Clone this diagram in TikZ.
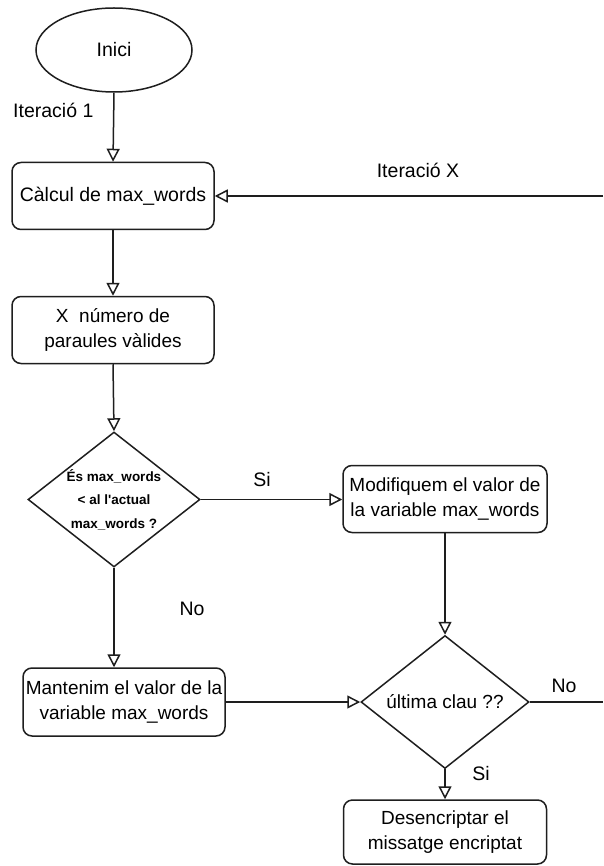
\documentclass[tikz,border=0pt]{standalone}
\usepackage{fontspec}
\setmainfont{Liberation Sans}[Ligatures=TeXOff]
\usetikzlibrary{shapes.geometric,arrows.meta}
\definecolor{lc}{RGB}{30,30,30}
\begin{document}
\begin{tikzpicture}[x=1pt,y=-1pt,
  box/.style={draw=lc, line width=1.5pt, rounded corners=9pt, minimum width=202pt, minimum height=67pt, inner sep=0pt, align=center, font=\fontsize{19}{25}\selectfont},
  dec/.style={draw=lc, line width=1.5pt, diamond, inner sep=0pt},
  dtext/.style={inner sep=0pt, align=center},
  lbl/.style={font=\fontsize{19.5}{23}\selectfont, inner sep=0pt},
  conn/.style={draw=lc, line width=1.5pt},
  arr/.style={conn, -{Triangle[open, fill=white, length=13pt, width=13pt]}}]
\useasboundingbox (0,0) rectangle (603,866);
\fill[white] (0,0) rectangle (603,866);

\node[draw=lc, line width=1.5pt, ellipse, minimum width=156pt, minimum height=84pt, inner sep=0pt, font=\fontsize{19.5}{23}\selectfont] (start) at (114,50) {Inici};
\node[box, font=\fontsize{19.5}{25}\selectfont] (b1) at (113,196) {Càlcul de max\_words};
\node[box] (b2) at (113,330) {X\ \ número de\\paraules vàlides};
\node[dec, minimum width=172pt, minimum height=135pt] (d1) at (114,499.5) {};
\node[dtext, font=\bfseries\fontsize{13.5}{23.5}\selectfont] (d1t) at (d1.center) {És max\_words\\< al l'actual\\max\_words ?};
\node[box, minimum width=204pt] (b3) at (445,499) {Modifiquem el valor de\\la variable max\_words};
\node[dec, minimum width=168pt, minimum height=133pt] (d2) at (445,702) {};
\node[dtext, font=\fontsize{19}{23}\selectfont] (d2t) at (d2.center) {última clau ??};
\node[box, minimum height=68pt] (b4) at (124,702) {Mantenim el valor de la\\variable max\_words};
\node[box, minimum width=203pt, minimum height=64pt] (b5) at (445,832) {Desencriptar el\\missatge encriptat};

\coordinate (rx) at (603,196);
\coordinate (rn) at (603,702);

\node[lbl, anchor=west] (it1) at (13,110) {Iteració 1};
\node[lbl] (itx) at (418,170) {Iteració X};
\node[lbl] (si1) at (262,480) {Si};
\node[lbl] (no1) at (192,609) {No};
\node[lbl] (no2) at (564,686) {No};
\node[lbl] (si2) at (481,774) {Si};

\draw[arr] (start.south) -- (b1.north);
\draw[arr] (rx) -- (b1.east);
\draw[arr] (b1.south) -- (b2.north);
\draw[arr] (b2.south) -- (d1.north);
\draw[arr] (d1.east) -- (d1.east -| b3.west);
\draw[arr] (b3.south) -- (d2.north);
\draw[arr] (d1.south) -- (d1.south |- b4.north);
\draw[arr] (b4.east) -- (d2.west);
\draw[conn] (d2.east) -- (rn);
\draw[arr] (d2.south) -- (b5.north);
\end{tikzpicture}
\end{document}
